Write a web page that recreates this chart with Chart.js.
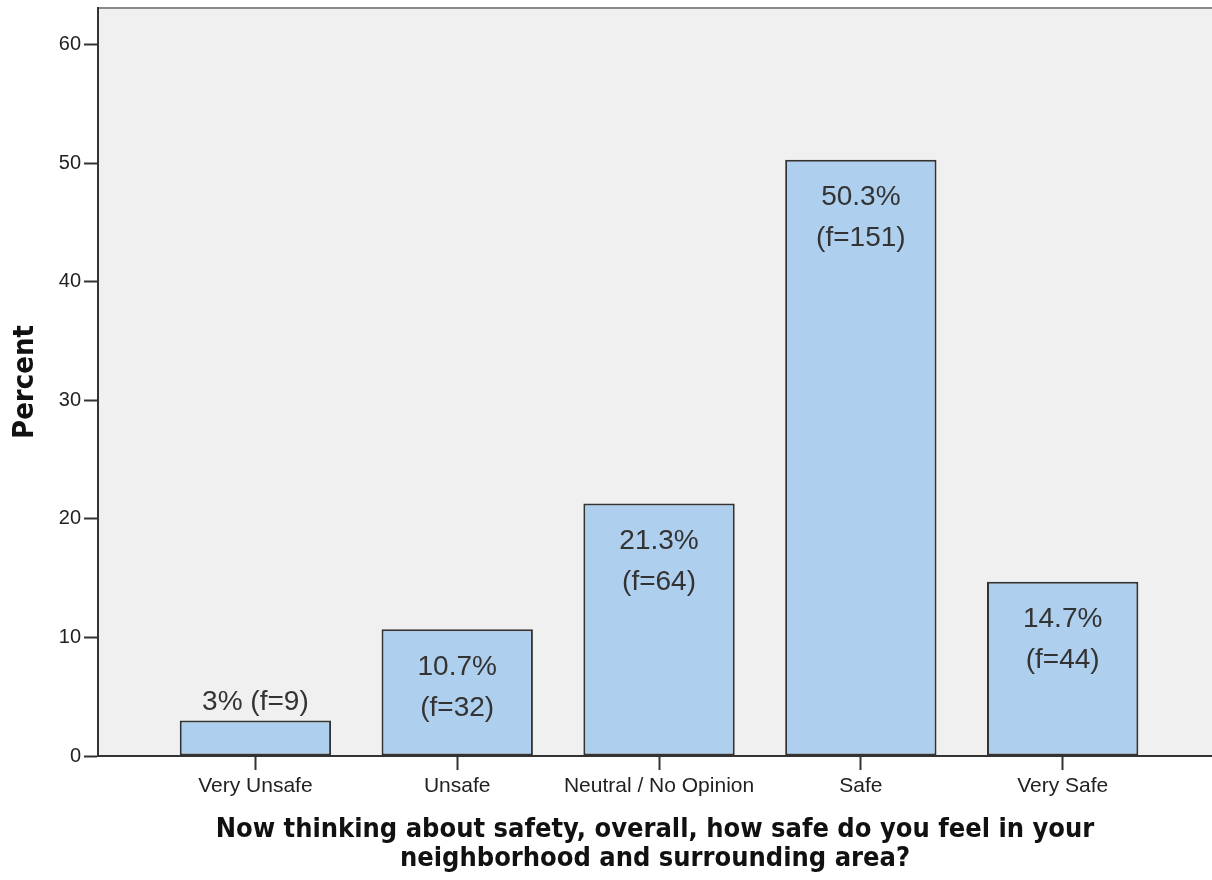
<!DOCTYPE html>
<html>
<head>
<meta charset="utf-8">
<script src="https://cdn.jsdelivr.net/npm/chart.js@4/dist/chart.umd.min.js"></script>
<style>
  body { margin: 0; background: #fff; }
  #wrap { width: 1212px; height: 880px; }
</style>
</head>
<body>
<div id="wrap"><canvas id="chart" width="1212" height="880"></canvas></div>
<script>
const categories = ['Very Unsafe', 'Unsafe', 'Neutral / No Opinion', 'Safe', 'Very Safe'];
const percents = [3.0, 10.7, 21.3, 50.3, 14.7];
const pctLabels = ['3%', '10.7%', '21.3%', '50.3%', '14.7%'];
const freqs = [9, 32, 64, 151, 44];
const yTicks = [0, 10, 20, 30, 40, 50, 60];

const titleFont = "'DejaVu Sans Condensed', 'DejaVu Sans', sans-serif";
const labelFont = "'Liberation Sans', Arial, sans-serif";

// plot background + top frame line
const plotFrame = {
  id: 'plotFrame',
  beforeDraw(chart) {
    const { ctx, chartArea: a } = chart;
    ctx.save();
    ctx.fillStyle = '#f0f0f0';
    ctx.fillRect(a.left, a.top, a.right - a.left, a.bottom - a.top);
    ctx.strokeStyle = '#8a8a8a';
    ctx.lineWidth = 2;
    ctx.beginPath();
    ctx.moveTo(a.left, a.top);
    ctx.lineTo(a.right, a.top);
    ctx.stroke();
    ctx.restore();
  }
};

// percent / frequency labels on bars
const barLabels = {
  id: 'barLabels',
  afterDatasetsDraw(chart) {
    const { ctx } = chart;
    const bars = chart.getDatasetMeta(0).data;
    ctx.save();
    ctx.fillStyle = '#333';
    ctx.font = '28px ' + labelFont;
    ctx.textAlign = 'center';
    ctx.textBaseline = 'middle';
    bars.forEach((bar, i) => {
      const h = bar.base - bar.y;
      if (h < 60) {
        ctx.fillText(pctLabels[i] + ' (f=' + freqs[i] + ')', bar.x, bar.y - 18);
      } else {
        ctx.fillText(pctLabels[i], bar.x, bar.y + 38);
        ctx.fillText('(f=' + freqs[i] + ')', bar.x, bar.y + 79);
      }
    });
    ctx.restore();
  }
};

new Chart(document.getElementById('chart'), {
  type: 'bar',
  data: {
    datasets: [{
      data: percents.map((v, i) => ({ x: i, y: v })),
      backgroundColor: '#aecfee',
      borderColor: '#333',
      borderWidth: 2,
      borderSkipped: false,
      categoryPercentage: 1,
      barPercentage: 0.75
    }]
  },
  options: {
    responsive: false,
    animation: false,
    layout: { padding: { top: 8, right: 0, left: 0, bottom: 0 } },
    plugins: { legend: { display: false }, tooltip: { enabled: false } },
    scales: {
      x: {
        type: 'linear',
        offset: false,
        min: -0.78,
        max: 4.74,
        afterBuildTicks: axis => { axis.ticks = categories.map((c, i) => ({ value: i })); },
        afterFit: scale => { scale.height = 124; scale.paddingLeft = 0; scale.paddingRight = 0; },
        ticks: {
          callback: v => categories[v],
          font: { family: labelFont, size: 21 },
          color: '#222',
          padding: 4,
          maxRotation: 0,
          autoSkip: false
        },
        grid: { offset: false, drawOnChartArea: false, tickLength: 14, tickWidth: 2, tickColor: '#333' },
        border: { color: '#333', width: 2 },
        title: {
          display: true,
          text: ['Now thinking about safety, overall, how safe do you feel in your', 'neighborhood and surrounding area?'],
          font: { family: titleFont, size: 27, weight: 'bold', lineHeight: 1.05 },
          color: '#111',
          padding: { top: 0, bottom: 7 }
        }
      },
      y: {
        min: 0,
        max: 63.1,
        afterBuildTicks: axis => { axis.ticks = yTicks.map(v => ({ value: v })); },
        afterFit: scale => { scale.width = 98; scale.paddingTop = 0; scale.paddingBottom = 0; },
        ticks: {
          font: { family: labelFont, size: 20 },
          color: '#222',
          padding: 3
        },
        grid: { drawOnChartArea: false, tickLength: 14, tickWidth: 2, tickColor: '#333' },
        border: { color: '#333', width: 2 },
        title: {
          display: true,
          text: 'Percent',
          font: { family: titleFont, size: 29, weight: 'bold', lineHeight: 1.2 },
          color: '#111',
          padding: { top: 8, bottom: 0 }
        }
      }
    }
  },
  plugins: [plotFrame, barLabels]
});
</script>
</body>
</html>
